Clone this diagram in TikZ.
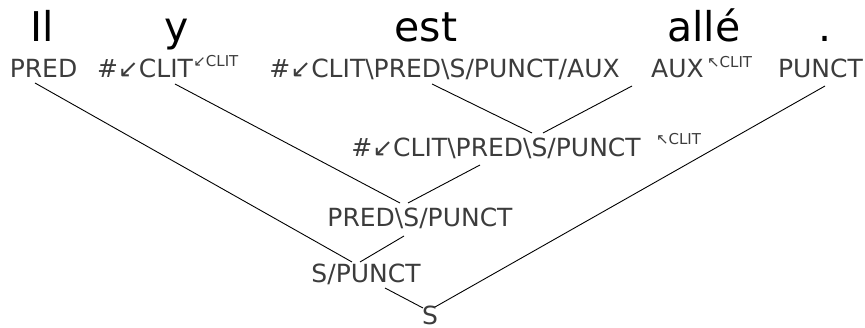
\documentclass[tikz,border=0pt]{standalone}
\usepackage{fontspec}
\setmainfont{DejaVu Sans}
\usepackage{tikz}
\usetikzlibrary{calc}
\definecolor{catgray}{RGB}{60,60,60}
\tikzset{basic label/.style={inner sep=0pt,anchor=base}}
\tikzset{word/.style={basic label,font=\fontsize{41}{41}\selectfont}}
\tikzset{cat/.style={basic label,
                     text=catgray,
                     font=\fontsize{25}{25}\selectfont}}
\tikzset{edge/.style={draw,
                      line width=0.9pt}}
\newcommand{\DL}{↙}
\newcommand{\UL}{↖}
\newcommand{\BS}{\textbackslash}

\begin{document}
\begin{tikzpicture}
      [
      x=1pt,y=-1pt,
      sup/.style={basic label,
      anchor=base west,
      text=catgray,
      font=\fontsize{15}{15}\selectfont},
      ]
      \useasboundingbox (0,0) rectangle (865,328);

      % words
      \foreach \i/\x/\w in {1/42/Il, 2/177/y, 3/426/est, 4/704/allé, 5/825/.}
      {
      \node [word] (W\i) at (\x,42) {\w};
      }

      % lexical categories
      \foreach \i/\x/\c in
      {
      1/43.5/{PRED},
      2/145/{\#\DL CLIT},
      3/444.5/{\#\DL CLIT\BS PRED\BS S/PUNCT/AUX},
      4/677.5/{AUX},
      5/820.5/{PUNCT}
      }
      {
      \node [cat] (C\i) at (\x,78) {\c};
      }
      \node [sup] (C2s) at ($(C2.base east)+(0,-11)$) {\DL CLIT};
      \node [sup] (C4s) at ($(C4.base east)+(3,-10)$) {\UL CLIT};

      % derived categories
      \node [cat] (M1) at (496,157) {\#\DL CLIT\BS PRED\BS S/PUNCT};
      \node [sup] (M1s) at ($(M1.base east)+(15,-12)$) {\UL CLIT};
      \node [cat] (M2) at (420,227) {PRED\BS S/PUNCT};
      \node [cat] (M3) at (366,283) {S/PUNCT};
      \node [cat] (M4) at (430,325) {S};

      % edges
      \path [edge] ($(C1.base)+(-8.5,5)$) -- ($(M3.base)+(-14,-21)$);
      \path [edge] ($(C2.base)+(30,6)$) -- ($(M2.base)+(-20,-24)$);
      \path [edge] ($(C3.base)+(-12.5,6)$) -- ($(M1.base)+(36,-24)$);
      \path [edge] ($(C4.base)+(-45.5,8)$) -- ($(M1.base)+(47,-24)$);
      \path [edge] ($(M1.base)+(-16,8)$) -- ($(M2.base)+(-12,-24)$);
      \path [edge] ($(M2.base)+(-16,9)$) -- ($(M3.base)+(-6,-21)$);
      \path [edge] ($(M3.base)+(19,5)$) -- ($(M4.base)+(-7,-17)$);
      \path [edge] ($(C5.base)+(4.5,8)$) -- ($(M4.base)+(5,-18)$);

    \end{tikzpicture}
\end{document}
